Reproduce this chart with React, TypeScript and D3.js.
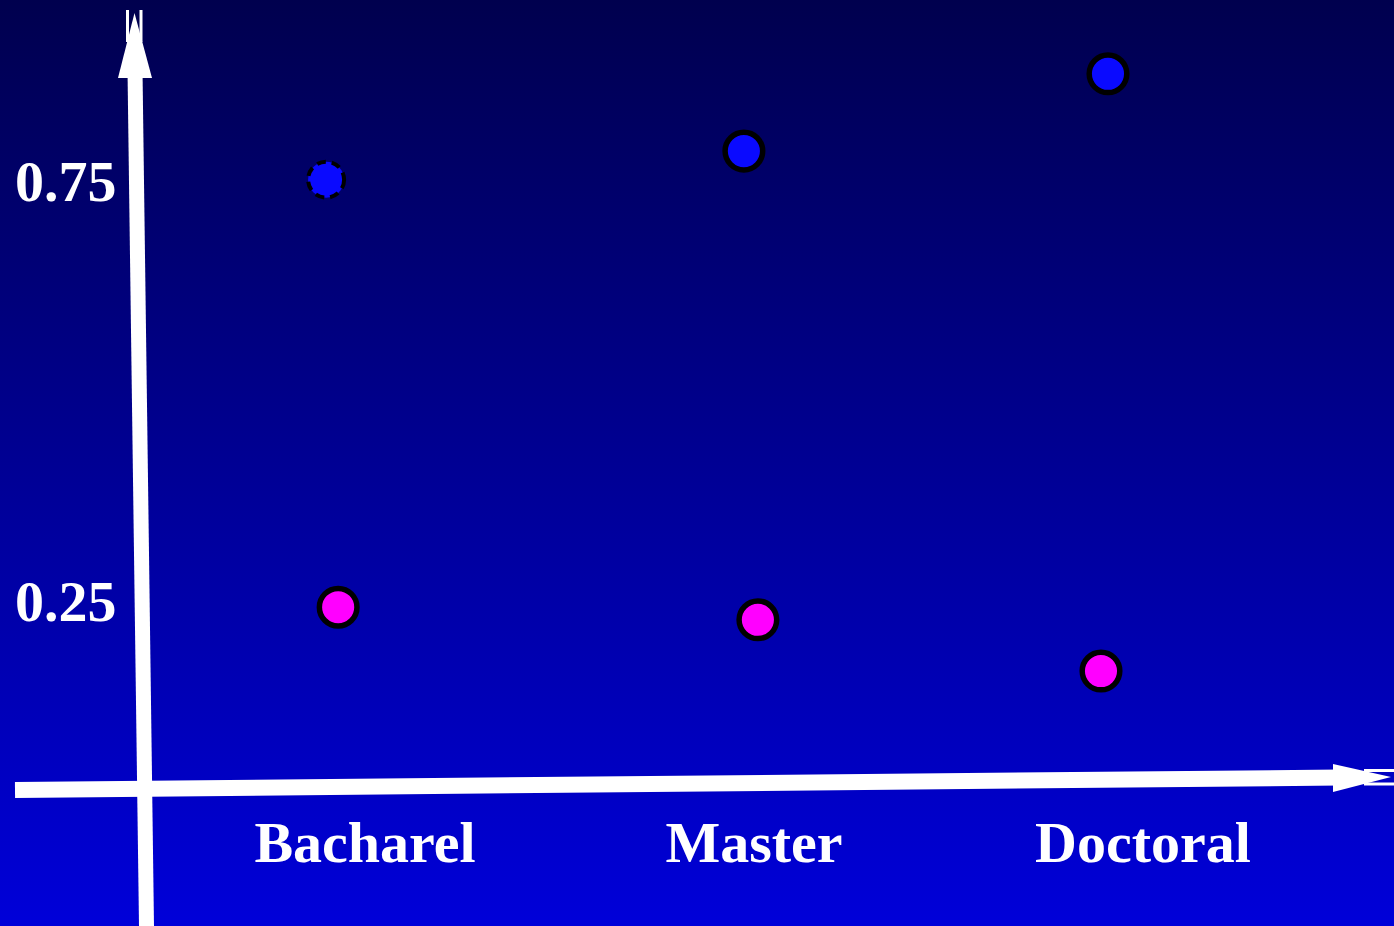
import React from "react";
import * as d3 from "d3";

const categories = ["Bacharel", "Master", "Doctoral"];
const yTicks = [0.25, 0.75];
// series values per category
const blueValues = [0.754, 0.788, 0.88];
const magentaValues = [0.245, 0.23, 0.169];
// horizontal offset of each point from its category centre (category units)
const blueOffset = [-0.1, -0.026, -0.09];
const magentaOffset = [-0.069, 0.01, -0.108];
const blueDashed = [true, false, false];

const W = 1394;
const H = 926;

export default function App() {
  const x = d3.scaleLinear().domain([0, 2]).range([365, 1143]);
  const y = d3.scaleLinear().domain([0.25, 0.75]).range([603, 183]);
  const font = "'Liberation Serif', 'Times New Roman', serif";

  const pts = [
    ...blueValues.map((v, i) => ({ cx: x(i + blueOffset[i]), cy: y(v), fill: "#0a0aff", dashed: blueDashed[i] })),
    ...magentaValues.map((v, i) => ({ cx: x(i + magentaOffset[i]), cy: y(v), fill: "#ff00ff", dashed: false })),
  ];

  return (
    <svg width={W} height={H} style={{ position: "absolute", left: 0, top: 0, display: "block" }}>
      <defs>
        <linearGradient id="bg" x1="0" y1="0" x2="0" y2="1">
          <stop offset="0%" stopColor="#00004e" />
          <stop offset="100%" stopColor="#0000d9" />
        </linearGradient>
      </defs>
      <rect x={0} y={0} width={W} height={H} fill="url(#bg)" />

      {/* Y axis */}
      <line x1={146.5} y1={926} x2={135} y2={70} stroke="#fff" strokeWidth={15} />
      <polygon points="118,78 152,78 134.5,13" fill="#fff" />
      <line x1={127.5} y1={10} x2={127.5} y2={42} stroke="#fff" strokeWidth={3} />
      <line x1={141} y1={10} x2={141} y2={42} stroke="#fff" strokeWidth={3} />

      {/* X axis */}
      <line x1={15} y1={790} x2={1340} y2={777.5} stroke="#fff" strokeWidth={16} />
      <polygon points="1333,764 1333,792 1391,777" fill="#fff" />
      <line x1={1364} y1={770.5} x2={1394} y2={770.5} stroke="#fff" strokeWidth={3} />
      <line x1={1364} y1={784} x2={1394} y2={784} stroke="#fff" strokeWidth={3} />

      {/* tick labels */}
      {yTicks.map((t) => (
        <text key={t} x={15} y={y(t) + 18} fill="#fff" fontFamily={font} fontWeight="bold" fontSize={58}>
          {t.toFixed(2)}
        </text>
      ))}
      {categories.map((c, i) => (
        <text key={c} x={x(i)} y={862} fill="#fff" fontFamily={font} fontWeight="bold" fontSize={58} textAnchor="middle">
          {c}
        </text>
      ))}

      {pts.map((p, i) => (
        <circle
          key={i}
          cx={p.cx}
          cy={p.cy}
          r={p.dashed ? 18 : 18.8}
          fill={p.fill}
          stroke="#000"
          strokeWidth={p.dashed ? 4 : 5.5}
          strokeDasharray={p.dashed ? "9 6" : undefined}
        />
      ))}
    </svg>
  );
}
